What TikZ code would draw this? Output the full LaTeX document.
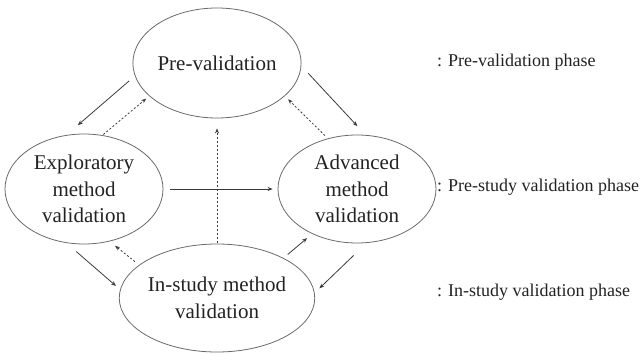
\documentclass[tikz,border=0pt]{standalone}
\usepackage{fontspec}
\setmainfont{Liberation Serif}
\usetikzlibrary{shapes.geometric,arrows.meta}
\definecolor{ink}{HTML}{222222}
\definecolor{edge}{HTML}{6A6A6A}
\definecolor{linec}{HTML}{3A3A3A}
\begin{document}
\begin{tikzpicture}[x=1pt,y=-1pt,
  phase/.style={ellipse, draw=edge, line width=0.8pt, inner sep=0pt, align=center,
     text=ink, font=\fontsize{21}{26.5}\selectfont},
  lbl/.style={anchor=west, inner sep=0pt, text=ink, font=\fontsize{18}{22}\selectfont},
  arr/.style={draw=linec, line width=0.8pt, -{Stealth[length=5pt,width=4pt]}},
  darr/.style={arr, dash pattern=on 2pt off 2pt}]
\useasboundingbox (0,0) rectangle (640,354);
\node[phase, minimum width=156pt, minimum height=110pt] (pre) at (217,63) {Pre-validation};
\node[phase, minimum width=158pt, minimum height=110pt] (exp) at (84,189) {Exploratory\\method\\validation};
\node[phase, minimum width=158pt, minimum height=108pt] (adv) at (357,189) {Advanced\\method\\validation};
\node[phase, minimum width=156pt, minimum height=108pt] (ins) at (217,298) {In-study method\\validation};
\node[lbl] (l1) at (437,62) {: Pre-validation phase};
\node[lbl] (l2) at (437,187) {: Pre-study validation phase};
\node[lbl] (l3) at (437,292) {: In-study validation phase};
% arrows
\draw[arr, shorten <=7.5pt, shorten >=15pt] (pre.189.2) -- (exp.108.3);
\draw[darr, shorten <=1pt, shorten >=4pt] (exp.71) -- (pre.206.2);
\draw[arr, shorten <=10pt, shorten >=12pt] (pre.358.5) -- (adv.81.1);
\draw[darr, shorten <=4pt, shorten >=4.6pt] (adv.120.1) -- (pre.334.5);
\draw[darr, shorten <=1pt, shorten >=10pt] (ins.north) -- (pre.south);
\draw[arr, shorten <=7pt, shorten >=5pt] (exp.east) -- (adv.west);
\draw[arr, shorten <=13pt, shorten >=5.5pt] (exp.252.7) -- (ins.175.6);
\draw[darr, shorten <=5.3pt, shorten >=7pt] (ins.157.3) -- (exp.296);
\draw[arr, shorten <=5.5pt, shorten >=6.6pt] (ins.31.2) -- (adv.225.7);
\draw[arr, shorten <=18pt, shorten >=6.5pt] (adv.280.3) -- (ins.3.8);
\end{tikzpicture}
\end{document}
